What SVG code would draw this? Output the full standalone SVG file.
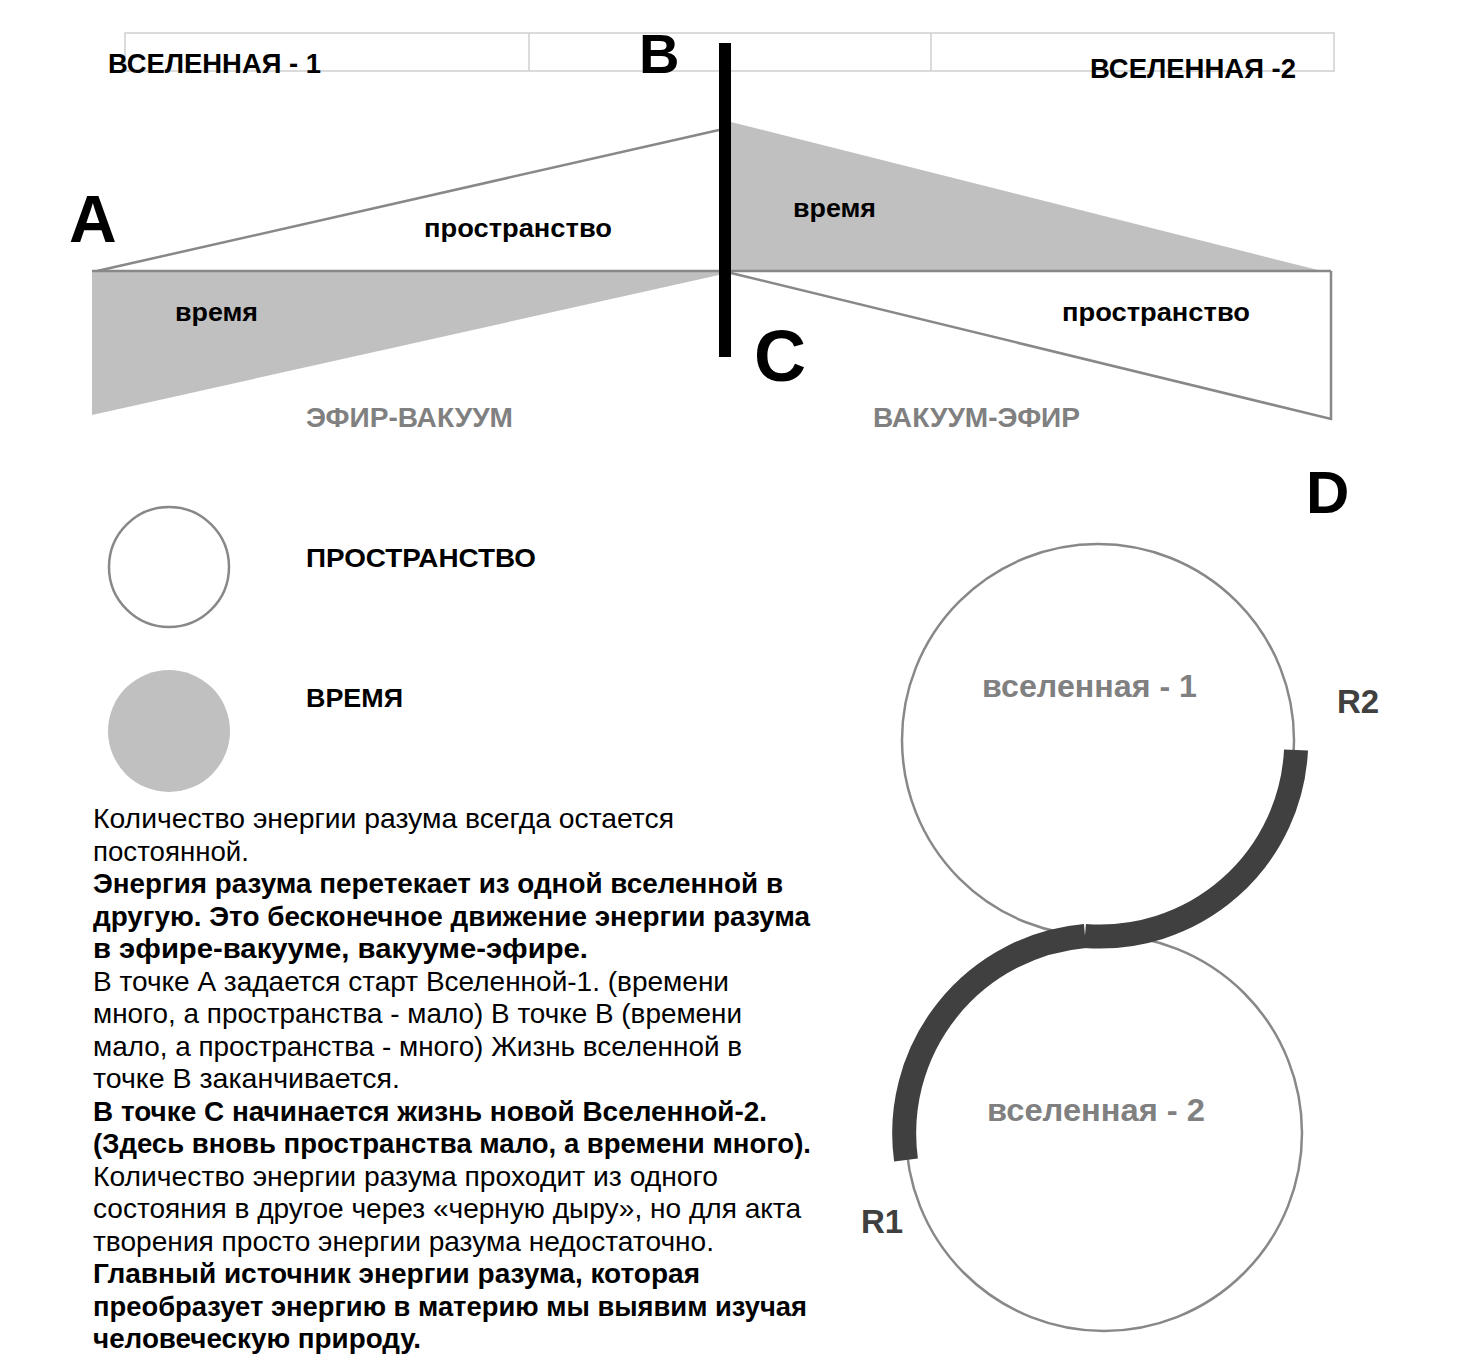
<svg xmlns="http://www.w3.org/2000/svg" width="1458" height="1372" viewBox="0 0 1458 1372">
<style>
text{font-family:"Liberation Sans",Arial,sans-serif;}
.b{font-weight:bold;fill:#000;}
.big{font-weight:bold;fill:#000;}
.lbl{font-weight:bold;font-size:26px;fill:#000;}
.gl{font-weight:bold;font-size:27px;fill:#808080;}
.p{font-size:27.5px;fill:#000;}
.pb{font-size:27.5px;font-weight:bold;fill:#000;}
.outline{fill:#fff;stroke:#888;stroke-width:2.5;}
.time{fill:#c0c0c0;stroke:none;}
.edge{fill:none;stroke:#888;stroke-width:2.5;}
</style>
<rect width="1458" height="1372" fill="#fff"/>

<g id="table">
<rect x="125" y="33" width="1209" height="38" fill="none" stroke="#cfcfcf" stroke-width="1.5"/>
<line x1="529" y1="33" x2="529" y2="71" stroke="#cfcfcf" stroke-width="1.5"/>
<line x1="931" y1="33" x2="931" y2="71" stroke="#cfcfcf" stroke-width="1.5"/>
<text class="b" x="108" y="73" font-size="28.5" textLength="213" lengthAdjust="spacingAndGlyphs">ВСЕЛЕННАЯ - 1</text>
<text class="b" x="1090" y="78" font-size="28.5" textLength="206" lengthAdjust="spacingAndGlyphs">ВСЕЛЕННАЯ -2</text>
</g>

<g id="diagram-top">
<polygon class="time" points="92,271 719,271 719,275 92,415"/>
<polygon class="time" points="731,122 1322,271 731,271"/>
<polyline class="edge" points="97,271 719,130"/>
<polyline class="edge" points="731,273 1331,419 1331,271"/>
<line class="edge" x1="92" y1="271" x2="1331" y2="271"/>
<rect x="719" y="43" width="12" height="314" fill="#000"/>
<text class="lbl" x="424" y="237" textLength="188" lengthAdjust="spacingAndGlyphs">пространство</text>
<text class="lbl" x="793" y="217" textLength="83" lengthAdjust="spacingAndGlyphs">время</text>
<text class="lbl" x="175" y="321" textLength="83" lengthAdjust="spacingAndGlyphs">время</text>
<text class="lbl" x="1062" y="321" textLength="188" lengthAdjust="spacingAndGlyphs">пространство</text>
<text class="gl" x="306" y="427" textLength="207" lengthAdjust="spacingAndGlyphs">ЭФИР-ВАКУУМ</text>
<text class="gl" x="873" y="427" textLength="207" lengthAdjust="spacingAndGlyphs">ВАКУУМ-ЭФИР</text>
<text class="big" x="69" y="242" font-size="66">A</text>
<text class="big" x="639" y="73" font-size="56">B</text>
<text class="big" x="754" y="381" font-size="72">C</text>
<text class="big" x="1306" y="513" font-size="60">D</text>
</g>

<g id="legend-space">
<circle class="outline" cx="169" cy="567" r="60"/>
<text class="lbl" x="306" y="567" textLength="230" lengthAdjust="spacingAndGlyphs">ПРОСТРАНСТВО</text>
</g>
<g id="legend-time">
<circle class="time" cx="169" cy="731" r="61"/>
<text class="lbl" x="306" y="707" textLength="97" lengthAdjust="spacingAndGlyphs">ВРЕМЯ</text>
</g>

<g id="universe-1">
<circle cx="1098" cy="740" r="196" fill="none" stroke="#888" stroke-width="2.5"/>
<text x="982" y="697" font-size="31" font-weight="bold" fill="#808080" textLength="215" lengthAdjust="spacingAndGlyphs">вселенная - 1</text>
</g>
<g id="universe-2">
<circle cx="1104" cy="1133" r="198" fill="none" stroke="#888" stroke-width="2.5"/>
<text x="987" y="1121" font-size="31" font-weight="bold" fill="#808080" textLength="218" lengthAdjust="spacingAndGlyphs">вселенная - 2</text>
</g>

<g id="connectors">
<path d="M1296,750 A196,196 0 0 1 1085,936" fill="none" stroke="#404040" stroke-width="24"/>
<path d="M1085,936 A198,198 0 0 0 906,1160" fill="none" stroke="#404040" stroke-width="24"/>
</g>
<g id="r-labels">
<text x="1337" y="713" font-size="33" font-weight="bold" fill="#404040">R2</text>
<text x="861" y="1233" font-size="33" font-weight="bold" fill="#404040">R1</text>
</g>

<g id="description">
<text class="p" x="93" y="828" textLength="581" lengthAdjust="spacingAndGlyphs">Количество энергии разума всегда остается</text>
<text class="p" x="93" y="860.5" textLength="156" lengthAdjust="spacingAndGlyphs">постоянной.</text>
<text class="pb" x="93" y="893" textLength="690" lengthAdjust="spacingAndGlyphs">Энергия разума перетекает из одной вселенной в</text>
<text class="pb" x="93" y="925.5" textLength="717" lengthAdjust="spacingAndGlyphs">другую. Это бесконечное движение энергии разума</text>
<text class="pb" x="93" y="958" textLength="495" lengthAdjust="spacingAndGlyphs">в эфире-вакууме, вакууме-эфире.</text>
<text class="p" x="93" y="990.5" textLength="636" lengthAdjust="spacingAndGlyphs">В точке А задается старт Вселенной-1. (времени</text>
<text class="p" x="93" y="1023" textLength="649" lengthAdjust="spacingAndGlyphs">много, а пространства - мало) В точке В (времени</text>
<text class="p" x="93" y="1055.5" textLength="649" lengthAdjust="spacingAndGlyphs">мало, а пространства - много) Жизнь вселенной в</text>
<text class="p" x="93" y="1088" textLength="307" lengthAdjust="spacingAndGlyphs">точке В заканчивается.</text>
<text class="pb" x="93" y="1120.5" textLength="674" lengthAdjust="spacingAndGlyphs">В точке С начинается жизнь новой Вселенной-2.</text>
<text class="pb" x="93" y="1153" textLength="718" lengthAdjust="spacingAndGlyphs">(Здесь вновь пространства мало, а времени много).</text>
<text class="p" x="93" y="1185.5" textLength="625" lengthAdjust="spacingAndGlyphs">Количество энергии разума проходит из одного</text>
<text class="p" x="93" y="1218" textLength="708" lengthAdjust="spacingAndGlyphs">состояния в другое через «черную дыру», но для акта</text>
<text class="p" x="93" y="1250.5" textLength="621" lengthAdjust="spacingAndGlyphs">творения просто энергии разума недостаточно.</text>
<text class="pb" x="93" y="1283" textLength="607" lengthAdjust="spacingAndGlyphs">Главный источник энергии разума, которая</text>
<text class="pb" x="93" y="1315.5" textLength="714" lengthAdjust="spacingAndGlyphs">преобразует энергию в материю мы выявим изучая</text>
<text class="pb" x="93" y="1348" textLength="328" lengthAdjust="spacingAndGlyphs">человеческую природу.</text>
</g>
</svg>
